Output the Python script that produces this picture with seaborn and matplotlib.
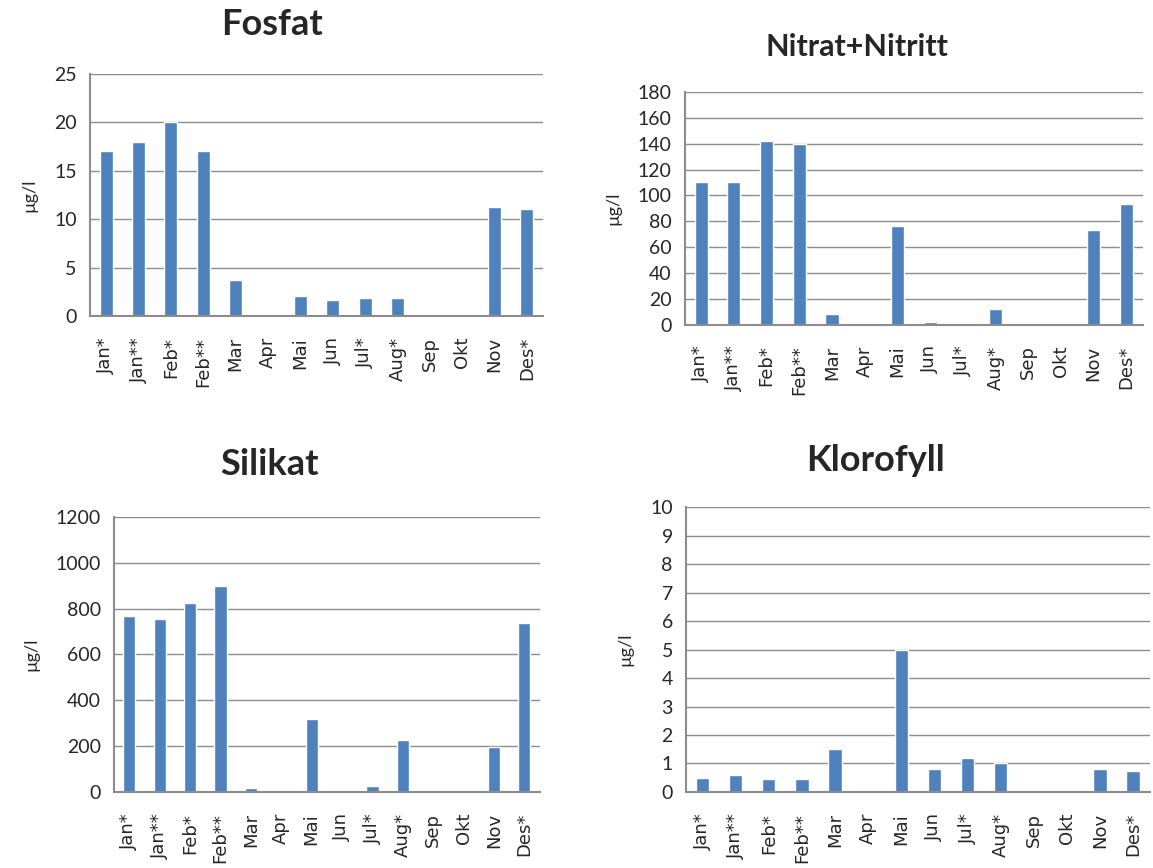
import numpy as np
import pandas as pd
import seaborn as sns
import matplotlib.pyplot as plt

# =========================
# データ
# =========================
months = ['Jan*', 'Jan**', 'Feb*', 'Feb**', 'Mar', 'Apr', 'Mai', 'Jun',
          'Jul*', 'Aug*', 'Sep', 'Okt', 'Nov', 'Des*']

fosfat = [17, 18, 20, 17, 3.7, 0, 2.1, 1.6, 1.9, 1.9, 0, 0, 11.2, 11]
nitrat = [110, 110, 142, 140, 8, 0, 76, 2, 0.5, 12, 0, 0, 73, 93]
silikat = [768, 755, 825, 900, 18, 0, 320, 2, 25, 225, 0, 0, 195, 738]
klorofyll = [0.5, 0.6, 0.45, 0.45, 1.5, 0, 5.0, 0.8, 1.2, 1.0, 0, 0, 0.8, 0.75]

sns.set_style('white')
plt.rcParams['font.family'] = ['Lato', 'DejaVu Sans']

fig = plt.figure(figsize=(11.53, 8.68), dpi=100)

# タイトル, 値, 軸位置, y上限, 目盛間隔, タイトルサイズ, タイトル位置
panels = [
    ('Fosfat', fosfat, [0.078, 0.636, 0.393, 0.279], 25, 5, 26, (0.236, 0.972)),
    ('Nitrat+Nitritt', nitrat, [0.594, 0.626, 0.397, 0.268], 180, 20, 22, (0.743, 0.946)),
    ('Silikat', silikat, [0.099, 0.0876, 0.369, 0.317], 1200, 200, 26, (0.234, 0.465)),
    ('Klorofyll', klorofyll, [0.595, 0.0876, 0.402, 0.328], 10, 1, 26, (0.759, 0.470)),
]

grey = '#8c8c8c'
for title, vals, rect, ymax, step, tsize, tpos in panels:
    ax = fig.add_axes(rect)
    df = pd.DataFrame({'month': months, 'value': vals})
    sns.barplot(data=df, x='month', y='value', color='#4F81BD', saturation=1,
                width=0.4, ax=ax)
    ax.set_xlim(-0.5, len(months) - 0.5)
    ax.set_ylim(0, ymax)
    ax.set_yticks(np.arange(0, ymax + step / 2, step))
    ax.yaxis.grid(True, color=grey, linewidth=1)
    ax.set_axisbelow(True)
    for s in ['top', 'right']:
        ax.spines[s].set_visible(False)
    for s in ['left', 'bottom']:
        ax.spines[s].set_color(grey)
        ax.spines[s].set_linewidth(1.5)
    # Excel風: 目盛線はカテゴリの境界に
    ax.set_xticks(np.arange(-0.5, len(months), 1), minor=True)
    ax.tick_params(axis='x', which='major', length=0, pad=15,
                   labelrotation=90, labelsize=13,
                   labelfontfamily='DejaVu Sans')
    ax.tick_params(axis='x', which='minor', length=7, color=grey, width=1.5)
    ax.tick_params(axis='y', length=6, color=grey, width=1.5, labelsize=14)
    ax.set_xlabel('')
    ax.set_ylabel('µg/l', fontsize=13, labelpad=12)
    fig.text(tpos[0], tpos[1], title, ha='center', va='center',
             fontsize=tsize, fontweight='bold')

plt.savefig('out.png', dpi=100)
